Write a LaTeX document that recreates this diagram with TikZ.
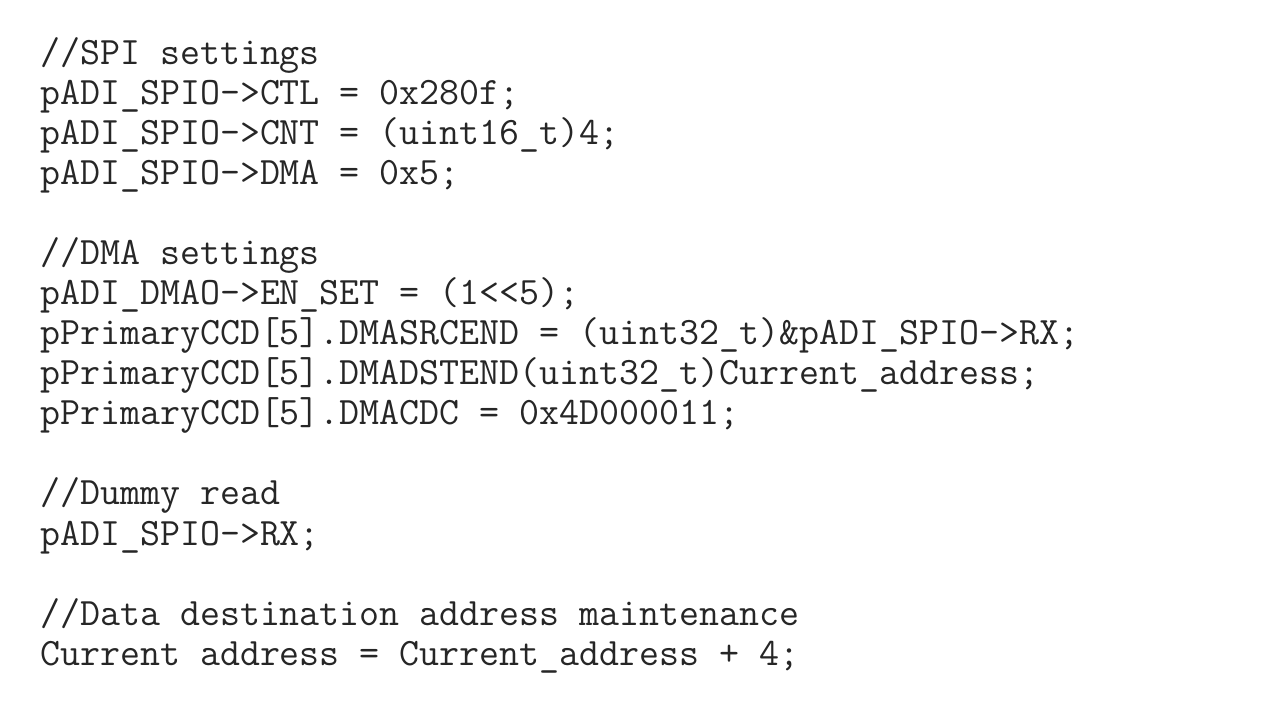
\documentclass[tikz,border=0pt]{standalone}
\usepackage{fontspec}
\begin{document}
\begin{tikzpicture}[x=1pt,y=1pt,
  codeline/.style={anchor=base west,inner sep=0pt,text=black!85,
    font=\ttfamily\fontsize{38.8}{40}\selectfont}]
\useasboundingbox (0,0) rectangle (1280,721);
\fill[white] (0,0) rectangle (1280,721);
\node[codeline] (l1) at (40,656) {//SPI settings};
\node[codeline] (l2) at (40,616) {pADI\_SPIO->CTL = 0x280f;};
\node[codeline] (l3) at (40,576) {pADI\_SPIO->CNT = (uint16\_t)4;};
\node[codeline] (l4) at (40,536) {pADI\_SPIO->DMA = 0x5;};
\node[codeline] (l6) at (40,456) {//DMA settings};
\node[codeline] (l7) at (40,416) {pADI\_DMAO->EN\_SET = (1<{}<5);};
\node[codeline] (l8) at (40,376) {pPrimaryCCD[5].DMASRCEND = (uint32\_t)\&pADI\_SPIO->RX;};
\node[codeline] (l9) at (40,336) {pPrimaryCCD[5].DMADSTEND(uint32\_t)Current\_address;};
\node[codeline] (l10) at (40,296) {pPrimaryCCD[5].DMACDC = 0x4D000011;};
\node[codeline] (l12) at (40,216) {//Dummy read};
\node[codeline] (l13) at (40,176) {pADI\_SPIO->RX;};
\node[codeline] (l15) at (40,96) {//Data destination address maintenance};
\node[codeline] (l16) at (40,56) {Current address = Current\_address + 4;};
\end{tikzpicture}
\end{document}
